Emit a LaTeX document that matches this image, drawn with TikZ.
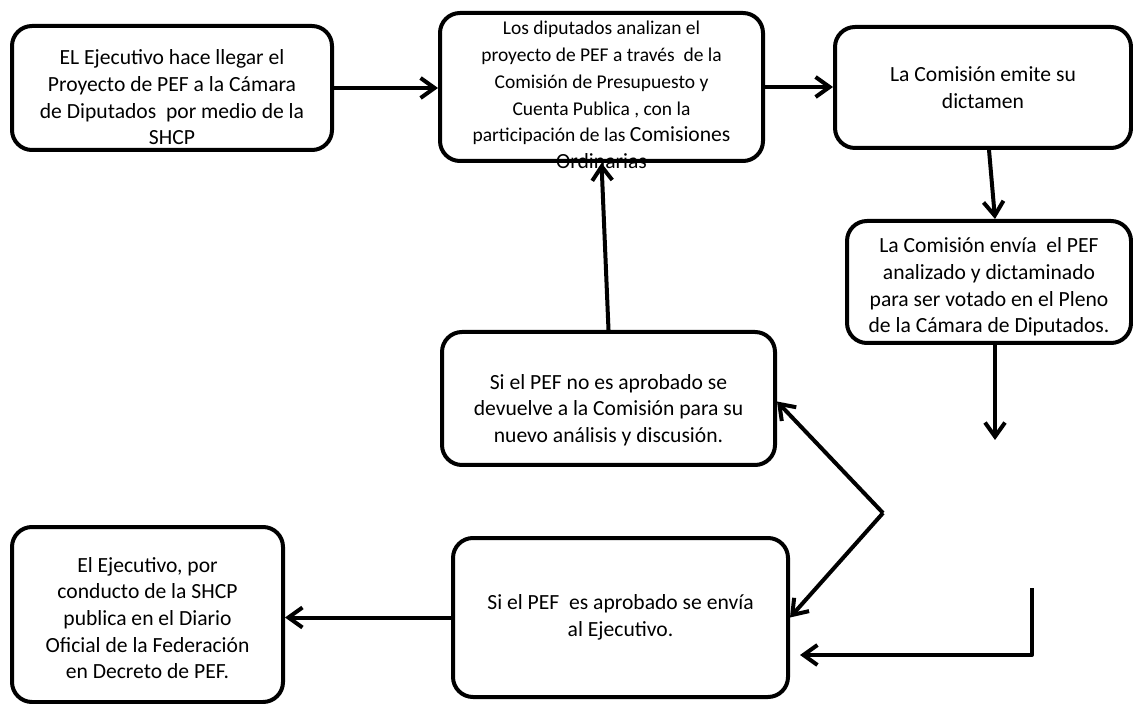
\documentclass[tikz,border=0pt]{standalone}
\usepackage{fontspec}
\setmainfont{Carlito}
\usepackage{tikz}
\usetikzlibrary{arrows.meta,
    positioning}

\begin{document}
\begin{tikzpicture}[x=0.5pt,y=-0.5pt,
    box/.style={draw,line width=2pt,rounded corners=10pt,inner sep=0pt},
    txt/.style={align=center,inner sep=0pt,font=\fontsize{10.8}{13.35}\selectfont},
    arr/.style={line width=2pt,line join=round,-{Straight Barb[length=7pt,width=10pt]}}]
                  \useasboundingbox (0,0) rectangle (1133,704);
                  % boxes
                  \node[box,minimum width=160pt,minimum height=62pt] (ejecutivo) at (172,88) {};
                  \node[box,minimum width=161.5pt,minimum height=74pt] (diputados) at (601.5,87) {};
                  \node[box,minimum width=148pt,minimum height=60.5pt] (dictamen) at (983,87.5) {};
                  \node[box,minimum width=142pt,minimum height=61pt] (envio) at (989,282) {};
                  \node[box,minimum width=166.5pt,minimum height=66.5pt] (rechazo) at (608.5,398.5) {};
                  \node[box,minimum width=167.5pt,minimum height=79.5pt] (aprobado) at (620.5,617.5) {};
                  \node[box,minimum width=135.5pt,minimum height=87.5pt] (decreto) at (147.5,614.5) {};
                  % texts
                  \node[txt] (ejecutivo-t) at (172,97.5) {EL Ejecutivo hace llegar el\\Proyecto de PEF a la Cámara\\de Diputados\ \ por medio de la\\SHCP};
                  \node[txt,font=\fontsize{9.75}{13.35}\selectfont] (diputados-t) at (601.5,95) {Los diputados analizan el\\proyecto de PEF a través\ \ de la\\Comisión de Presupuesto y\\Cuenta Publica , con la\\participación de las {\fontsize{10.8}{13.35}\selectfont Comisiones}\\{\fontsize{10.8}{13.35}\selectfont Ordinarias}};
                  \node[txt] (dictamen-t) at (983,88) {La Comisión emite su\\dictamen};
                  \node[txt] (envio-t) at (989,287) {La Comisión envía\ \ el PEF\\analizado y dictaminado\\para ser votado en el Pleno\\de la Cámara de Diputados.};
                  \node[txt] (rechazo-t) at (608.5,410) {Si el PEF no es aprobado se\\devuelve a la Comisión para su\\nuevo análisis y discusión.};
                  \node[txt] (aprobado-t) at (620.5,617.5) {Si el PEF\ \ es aprobado se envía\\al Ejecutivo.};
                  \node[txt] (decreto-t) at (147.5,618) {El Ejecutivo, por\\conducto de la SHCP\\publica en el Diario\\Oficial de la Federación\\en Decreto de PEF.};
                  % free ends
                  \coordinate (votacion) at (995,440);
                  \coordinate (pleno) at (883,513);
                  \coordinate (regreso) at (1032,588);
                  \coordinate (regreso-fin) at (800,655);
                  % arrows
                  \draw[arr] (ejecutivo.east) -- (diputados.west |- ejecutivo.east);
                  \draw[arr] (diputados.east) -- (dictamen.west |- diputados.east);
                  \draw[arr] ([xshift=3pt]dictamen.south) -- ([xshift=3pt]envio.north);
                  \draw[arr] ([xshift=3pt]envio.south) -- (votacion);
                  \draw[arr] (rechazo.north) -- (diputados.south);
                  \draw[arr] (pleno) -- ([yshift=-1.5pt]rechazo.east);
                  \draw[arr] (pleno) -- (aprobado.east);
                  \draw[arr] (regreso) |- (regreso-fin);
                  \draw[arr] (aprobado.west) -- (decreto.east |- aprobado.west);
              \end{tikzpicture}
\end{document}
